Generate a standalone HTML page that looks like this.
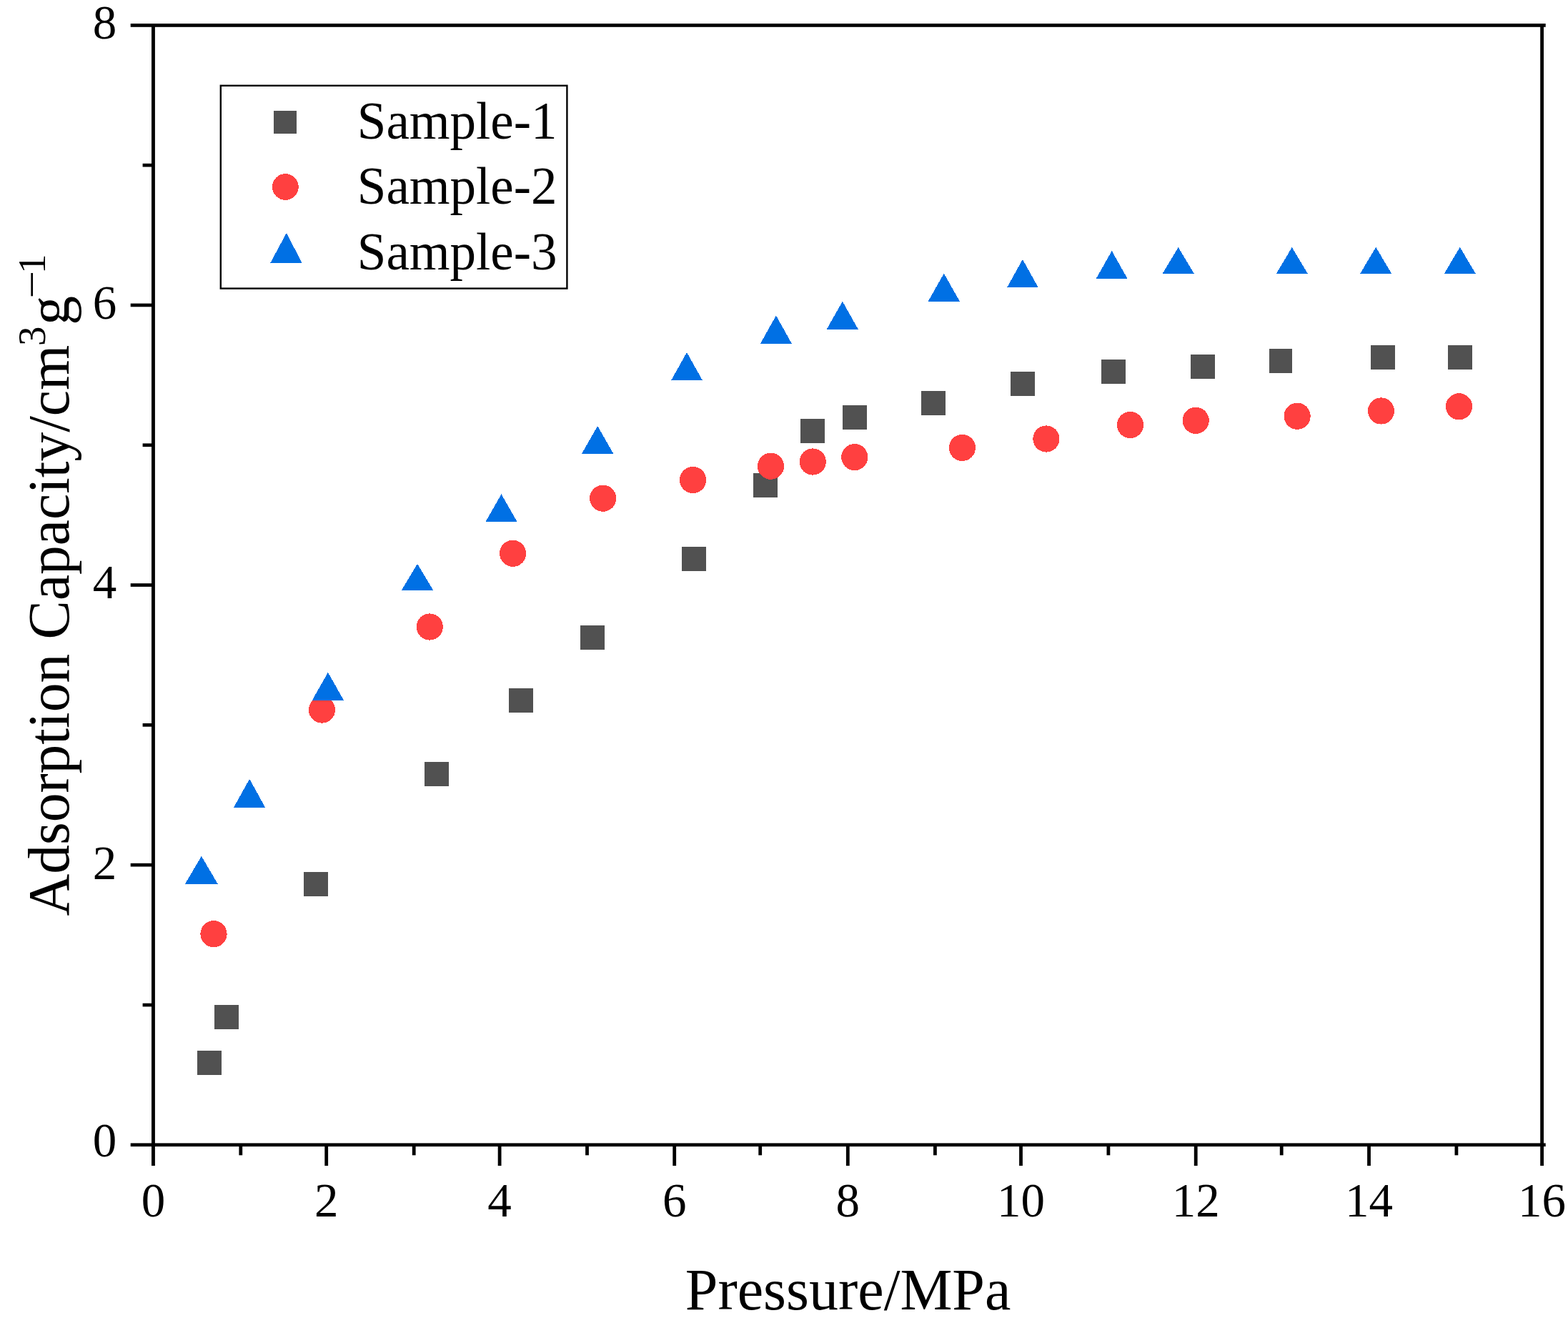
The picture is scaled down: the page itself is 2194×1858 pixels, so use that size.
<!DOCTYPE html>
<html><head><meta charset="utf-8"><title>Adsorption Capacity vs Pressure</title>
<style>
html,body{margin:0;padding:0;background:#fff;overflow:hidden;}
svg{display:block;}
text{font-family:"Liberation Serif","Times New Roman",serif;fill:#000;}
</style></head><body>
<svg width="2194" height="1858" viewBox="0 0 2194 1858">
<rect x="0" y="0" width="2194" height="1858" fill="#fff"/>
<g fill="#515151" shape-rendering="crispEdges">
<rect x="275.9" y="1469.7" width="34" height="34"/>
<rect x="300.3" y="1406.0" width="34" height="34"/>
<rect x="425.0" y="1220.0" width="34" height="34"/>
<rect x="594.0" y="1066.0" width="34" height="34"/>
<rect x="711.5" y="963.0" width="34" height="34"/>
<rect x="812.0" y="874.9" width="34" height="34"/>
<rect x="953.8" y="764.8" width="34" height="34"/>
<rect x="1054.0" y="661.9" width="34" height="34"/>
<rect x="1120.2" y="586.0" width="34" height="34"/>
<rect x="1179.0" y="566.5" width="34" height="34"/>
<rect x="1289.1" y="547.0" width="34" height="34"/>
<rect x="1413.9" y="520.0" width="34" height="34"/>
<rect x="1541.1" y="503.0" width="34" height="34"/>
<rect x="1666.0" y="495.5" width="34" height="34"/>
<rect x="1776.0" y="488.0" width="32" height="34"/>
<rect x="1918.0" y="483.2" width="34" height="34"/>
<rect x="2025.9" y="483.2" width="34" height="34"/>
</g>
<g fill="#FF4040" shape-rendering="crispEdges">
<circle cx="299.0" cy="1306.7" r="18.6"/>
<circle cx="450.5" cy="993.1" r="18.6"/>
<circle cx="601.2" cy="877.0" r="18.6"/>
<circle cx="717.6" cy="774.3" r="18.6"/>
<circle cx="843.7" cy="697.2" r="18.6"/>
<circle cx="969.6" cy="671.5" r="18.6"/>
<circle cx="1078.5" cy="652.2" r="18.6"/>
<circle cx="1137.2" cy="646.0" r="18.6"/>
<circle cx="1195.8" cy="639.6" r="18.6"/>
<circle cx="1346.4" cy="626.4" r="18.6"/>
<circle cx="1463.9" cy="614.0" r="18.6"/>
<circle cx="1581.5" cy="594.5" r="18.6"/>
<circle cx="1673.2" cy="588.3" r="18.6"/>
<circle cx="1815.1" cy="582.2" r="18.6"/>
<circle cx="1932.5" cy="575.0" r="18.6"/>
<circle cx="2041.5" cy="568.8" r="18.6"/>
</g>
<g fill="#0070E4" shape-rendering="crispEdges">
<polygon points="281.9,1197.8 304.9,1237.1 258.8,1237.1"/>
<polygon points="349.1,1089.9 371.1,1129.6 327.1,1129.6"/>
<polygon points="458.9,940.8 481.2,980.0 436.7,980.0"/>
<polygon points="584.0,788.9 606.2,825.9 561.8,825.9"/>
<polygon points="701.5,691.3 723.7,730.2 679.3,730.2"/>
<polygon points="836.1,596.0 858.4,634.9 813.9,634.9"/>
<polygon points="961.0,493.0 982.9,532.1 939.1,532.1"/>
<polygon points="1085.9,441.5 1107.8,480.6 1064.0,480.6"/>
<polygon points="1178.8,421.7 1200.8,460.8 1156.7,460.8"/>
<polygon points="1320.8,382.6 1342.8,421.5 1298.7,421.5"/>
<polygon points="1430.9,363.0 1452.8,402.2 1409.1,402.2"/>
<polygon points="1555.7,351.0 1577.6,389.9 1533.7,389.9"/>
<polygon points="1648.7,346.0 1670.8,382.8 1626.6,382.8"/>
<polygon points="1807.8,346.0 1829.8,382.8 1785.8,382.8"/>
<polygon points="1925.2,345.8 1947.1,382.8 1903.2,382.8"/>
<polygon points="2042.8,345.8 2064.7,382.8 2020.8,382.8"/>
</g>
<g fill="#000">
<rect x="182.7" y="33" width="1980" height="4.8"/>
<rect x="182.7" y="1599.4" width="1980" height="4.7"/>
<rect x="212" y="33" width="4.9" height="1598"/>
<rect x="2155.2" y="33" width="4.8" height="1598"/>
<rect x="199.6" y="1403.7" width="14" height="4.7"/>
<rect x="182.7" y="1207.8" width="31" height="4.7"/>
<rect x="199.6" y="1012.0" width="14" height="4.7"/>
<rect x="182.7" y="816.2" width="31" height="4.7"/>
<rect x="199.6" y="620.4" width="14" height="4.7"/>
<rect x="182.7" y="424.6" width="31" height="4.7"/>
<rect x="199.6" y="228.8" width="14" height="4.7"/>
<rect x="334.4" y="1600" width="4.8" height="16.3"/>
<rect x="454.3" y="1600" width="4.8" height="31"/>
<rect x="576.8" y="1600" width="4.8" height="16.3"/>
<rect x="696.7" y="1600" width="4.8" height="31"/>
<rect x="819.1" y="1600" width="4.8" height="16.3"/>
<rect x="941.3" y="1600" width="4.8" height="31"/>
<rect x="1061.3" y="1600" width="4.8" height="16.3"/>
<rect x="1183.9" y="1600" width="4.8" height="31"/>
<rect x="1306.0" y="1600" width="4.8" height="16.3"/>
<rect x="1426.1" y="1600" width="4.8" height="31"/>
<rect x="1548.5" y="1600" width="4.8" height="16.3"/>
<rect x="1670.8" y="1600" width="4.8" height="31"/>
<rect x="1790.8" y="1600" width="4.8" height="16.3"/>
<rect x="1913.1" y="1600" width="4.8" height="31"/>
<rect x="2035.5" y="1600" width="4.8" height="16.3"/>
</g>
<g font-size="67">
<text x="214.5" y="1701.5" text-anchor="middle">0</text>
<text x="456.7" y="1701.5" text-anchor="middle">2</text>
<text x="699.1" y="1701.5" text-anchor="middle">4</text>
<text x="943.7" y="1701.5" text-anchor="middle">6</text>
<text x="1186.3" y="1701.5" text-anchor="middle">8</text>
<text x="1428.5" y="1701.5" text-anchor="middle">10</text>
<text x="1673.2" y="1701.5" text-anchor="middle">12</text>
<text x="1915.5" y="1701.5" text-anchor="middle">14</text>
<text x="2157.6" y="1701.5" text-anchor="middle">16</text>
<text x="163.3" y="1618.1" text-anchor="end">0</text>
<text x="163.3" y="1229.8" text-anchor="end">2</text>
<text x="163.3" y="837.4" text-anchor="end">4</text>
<text x="163.3" y="445.6" text-anchor="end">6</text>
<text x="163.3" y="54.2" text-anchor="end">8</text>
</g>
<text x="958.8" y="1831.8" font-size="82">Pressure/MPa</text>
<g transform="translate(95.5,1281.6) rotate(-90)">
<text x="0" y="0" font-size="81.5">Adsorption Capacity/cm</text>
</g>
<text transform="translate(62.8,484) rotate(-90)" font-size="55">3</text>
<text transform="translate(95.5,454.7) rotate(-90)" font-size="81.5">g</text>
<text transform="translate(63,418.1) rotate(-90)" font-size="55" textLength="39.2" lengthAdjust="spacingAndGlyphs">−</text>
<text transform="translate(63,383) rotate(-90)" font-size="55">1</text>
<rect x="308.8" y="119.8" width="484.6" height="283.8" fill="none" stroke="#000" stroke-width="2.4"/>
<g shape-rendering="crispEdges">
<rect x="383.1" y="155.1" width="32" height="31.8" fill="#515151"/>
<circle cx="399.4" cy="261.5" r="18.4" fill="#FF4040"/>
<polygon points="400.8,326 422.8,368.1 378.2,368.1" fill="#0070E4"/>
</g>
<g font-size="73">
<text x="499.8" y="194.3">Sample-1</text>
<text x="499.8" y="284.6">Sample-2</text>
<text x="499.8" y="377.2">Sample-3</text>
</g>
</svg>
</body></html>
